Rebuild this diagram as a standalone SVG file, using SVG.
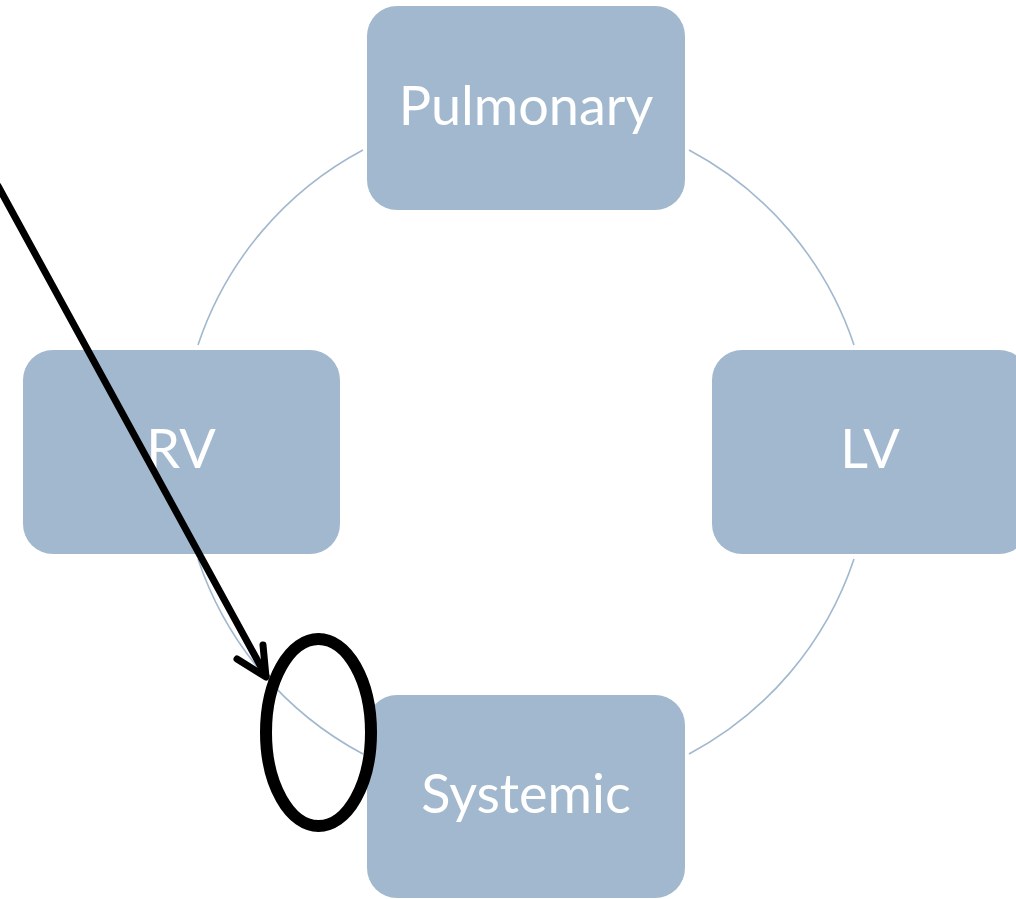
<svg xmlns="http://www.w3.org/2000/svg" width="1016" height="899" viewBox="0 0 1016 899">
<style>
.box{fill:#A2B8CE}
.lbl{font-family:"Lato","Open Sans","Liberation Sans",sans-serif;font-size:54px;fill:#FFFFFF;text-anchor:middle}
.arc{fill:none;stroke:#A2B8CE;stroke-width:1.6}
.ink{fill:none;stroke:#000000;stroke-linecap:round;stroke-linejoin:round}
</style>
<rect width="1016" height="899" fill="#FFFFFF"/>
<g id="connectors">
<path class="arc" d="M363,150 A344,344 0 0 0 198,345"/>
<path class="arc" d="M689,150 A344,344 0 0 1 854,345"/>
<path class="arc" d="M854,559 A344,344 0 0 1 689,754"/>
<path class="arc" d="M198,559 A344,344 0 0 0 363,754"/>
</g>
<g id="pulmonary"><rect class="box" x="367" y="6" width="318" height="204" rx="30"/><text class="lbl" x="526" y="125">Pulmonary</text></g>
<g id="rv"><rect class="box" x="23" y="350" width="317" height="204" rx="30"/><text class="lbl" x="181" y="468">RV</text></g>
<g id="lv"><rect class="box" x="712" y="350" width="317" height="204" rx="30"/><text class="lbl" x="870" y="468">LV</text></g>
<g id="systemic"><rect class="box" x="367" y="695" width="318" height="203" rx="30"/><text class="lbl" x="526" y="813">Systemic</text></g>
<g id="annotation">
<path class="ink" stroke-width="7" d="M-2,186 L266,676"/>
<path class="ink" stroke-width="7" d="M237,659 L266,677 L263,645"/>
<ellipse class="ink" stroke-width="12" cx="318.5" cy="732.5" rx="52.5" ry="93.5"/>
</g>
</svg>
